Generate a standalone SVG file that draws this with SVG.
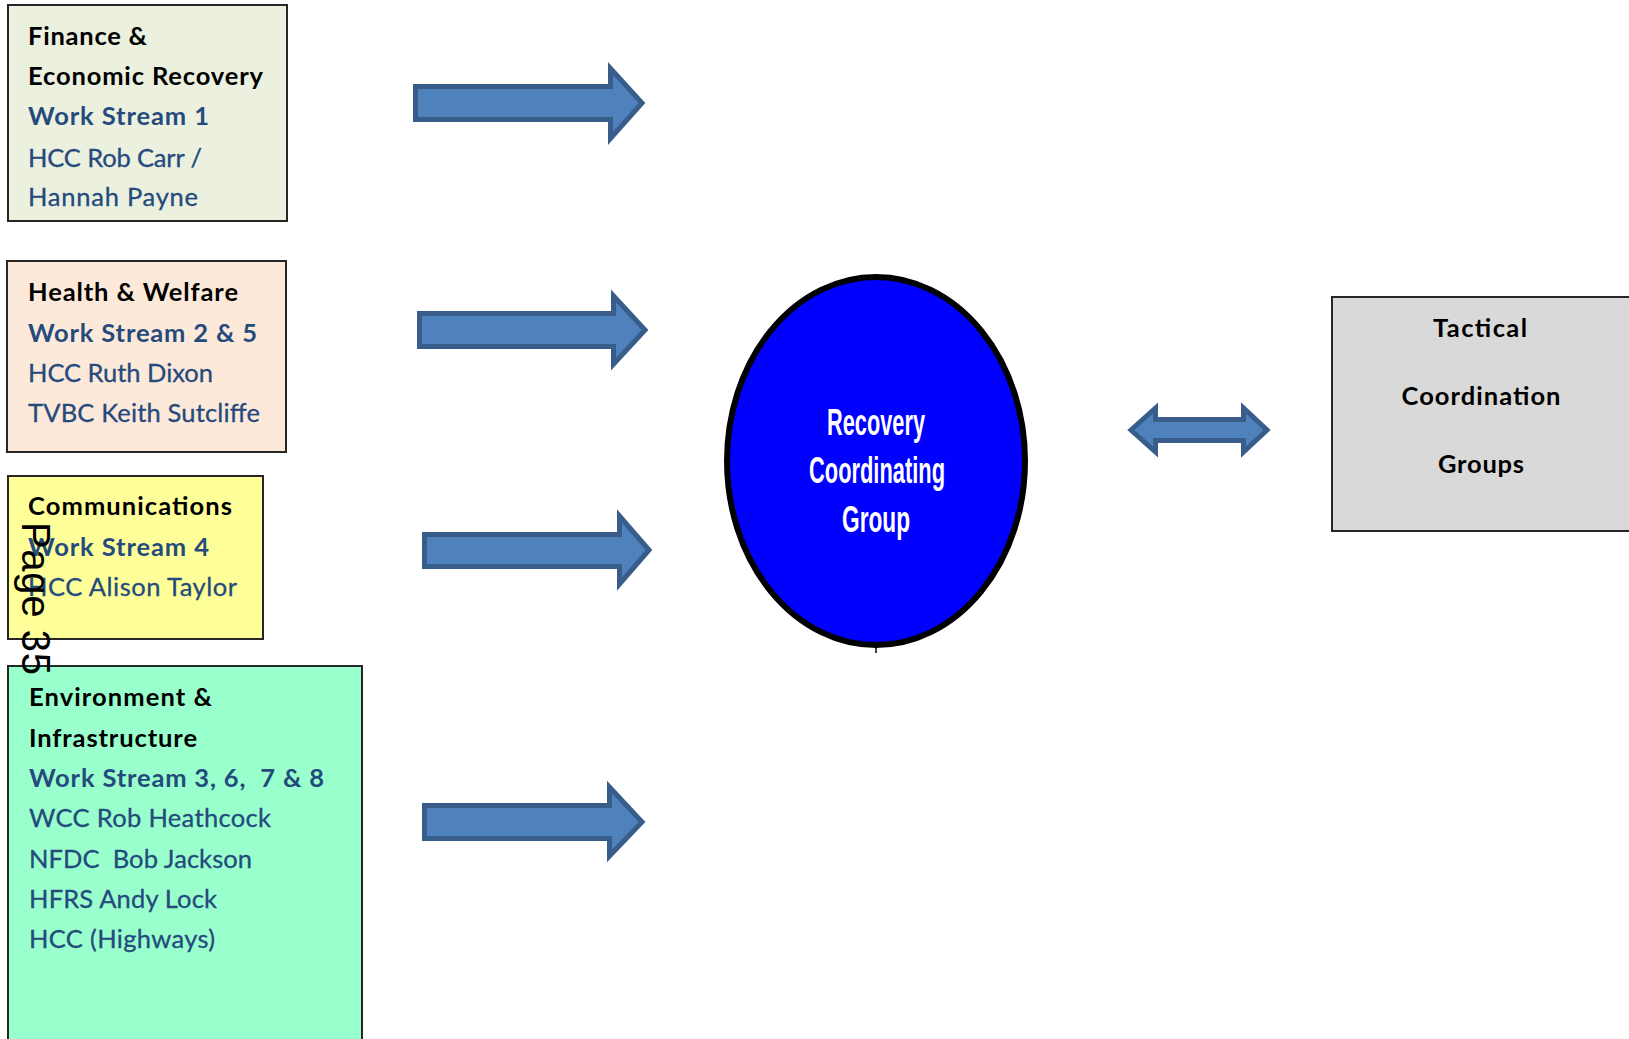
<svg xmlns="http://www.w3.org/2000/svg" width="1629" height="1039" viewBox="0 0 1629 1039">
<style>
.box{stroke:#262626;stroke-width:2}
.t{font-family:Lato,"Open Sans","Liberation Sans",sans-serif;font-size:25.5px}
.h{font-weight:bold;fill:#000}
.ws{font-weight:bold;fill:#254A7D}
.p{fill:#254A7D;stroke:#254A7D;stroke-width:0.3}
.arrow{fill:#4F81BD;stroke:#385D8A;stroke-width:5;stroke-linejoin:miter}
.rcg{font-family:"Liberation Sans Narrow","Liberation Sans",Arial,sans-serif;font-size:36px;font-weight:bold;fill:#fff}
.tac{font-family:Lato,"Open Sans","Liberation Sans",sans-serif;font-size:25.5px;font-weight:bold;fill:#000;text-anchor:middle}
</style>
<rect width="1629" height="1039" fill="#fff"/>

<g id="finance">
<rect class="box" x="8" y="5" width="279" height="216" fill="#EBF1DE"/>
<text class="t h" x="28" y="45" textLength="119">Finance &amp;</text>
<text class="t h" x="28" y="85" textLength="235">Economic Recovery</text>
<text class="t ws" x="28" y="125" textLength="181">Work Stream 1</text>
<text class="t p" x="28" y="167" textLength="174">HCC Rob Carr /</text>
<text class="t p" x="28" y="206" textLength="170">Hannah Payne</text>
</g>

<g id="health">
<rect class="box" x="7" y="261" width="279" height="191" fill="#FDE9D9"/>
<text class="t h" x="28" y="301" textLength="210">Health &amp; Welfare</text>
<text class="t ws" x="28" y="342" textLength="229">Work Stream 2 &amp; 5</text>
<text class="t p" x="28" y="382" textLength="185">HCC Ruth Dixon</text>
<text class="t p" x="28" y="422" textLength="232">TVBC Keith Sutcliffe</text>
</g>

<g id="communications">
<rect class="box" x="8" y="476" width="255" height="163" fill="#FFFF99"/>
<text class="t h" x="28" y="515" textLength="204">Communications</text>
<text class="t ws" x="28" y="556" textLength="181">Work Stream 4</text>
<text class="t p" x="28" y="596" textLength="209">HCC Alison Taylor</text>
</g>

<g id="environment">
<rect class="box" x="8" y="666" width="354" height="385" fill="#99FFCC"/>
<text class="t h" x="29" y="706" textLength="183">Environment &amp;</text>
<text class="t h" x="29" y="747" textLength="168">Infrastructure</text>
<text class="t ws" x="29" y="787" textLength="295" xml:space="preserve">Work Stream 3, 6,  7 &amp; 8</text>
<text class="t p" x="29" y="827" textLength="242">WCC Rob Heathcock</text>
<text class="t p" x="29" y="868" textLength="223" xml:space="preserve">NFDC  Bob Jackson</text>
<text class="t p" x="29" y="908" textLength="188">HFRS Andy Lock</text>
<text class="t p" x="29" y="948" textLength="186">HCC (Highways)</text>
</g>

<g id="page-label">
<text transform="translate(22,522) rotate(90)" font-family="'Liberation Sans',Arial,sans-serif" font-size="40" fill="#000" textLength="153">Page 35</text>
</g>

<g id="rcg">
<ellipse cx="876" cy="461" rx="149" ry="184" fill="#0000FF" stroke="#000" stroke-width="6"/>
<text class="rcg" x="876" y="435" text-anchor="middle" textLength="98" lengthAdjust="spacingAndGlyphs">Recovery</text>
<text class="rcg" x="877" y="483" text-anchor="middle" textLength="136" lengthAdjust="spacingAndGlyphs">Coordinating</text>
<text class="rcg" x="876" y="532" text-anchor="middle" textLength="68" lengthAdjust="spacingAndGlyphs">Group</text>
</g>

<g id="tactical">
<rect class="box" x="1332" y="297" width="310" height="234" fill="#D9D9D9"/>
<text class="tac" x="1480" y="337" textLength="94">Tactical</text>
<text class="tac" x="1481" y="405" textLength="159">Coordination</text>
<text class="tac" x="1481" y="473" textLength="86">Groups</text>
</g>

<g id="connectors">
<path class="arrow" d="M415.5,86.5 H610.5 V68.5 L642,103 L610.5,138.5 V119.5 H415.5 Z"/>
<path class="arrow" d="M419.5,313.5 H613.5 V296 L645,330 L613.5,364 V346.5 H419.5 Z"/>
<path class="arrow" d="M424.5,534.5 H619.5 V516 L649,550 L619.5,584 V566.5 H424.5 Z"/>
<path class="arrow" d="M424.5,805.5 H609.5 V787 L642,822 L609.5,856 V838.5 H424.5 Z"/>
<path class="arrow" d="M1131,430 L1155.5,408 V419.5 H1243.5 V408 L1267,430 L1243.5,452 V440.5 H1155.5 V452 Z"/>
<line x1="876" y1="646" x2="876" y2="653" stroke="#000" stroke-width="1.5"/>
</g>
</svg>
